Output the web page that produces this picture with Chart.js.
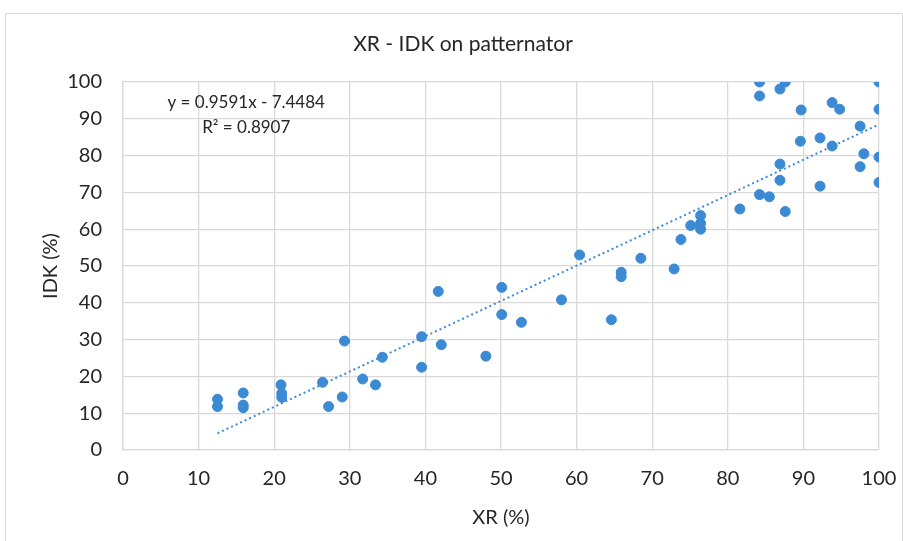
<!DOCTYPE html>
<html>
<head>
<meta charset="utf-8">
<script src="https://cdn.jsdelivr.net/npm/chart.js@4/dist/chart.umd.min.js"></script>
<style>
  html, body { margin: 0; padding: 0; background: #fff; }
  #wrap { width: 903px; height: 541px; position: relative; }
</style>
</head>
<body>
<div id="wrap"><canvas id="XrIdk"></canvas></div>
<script>
  'use strict';

  // XR (%) values
  var xrValues = [12.5, 12.5, 15.9, 15.9, 15.9, 20.9, 21.0, 21.0, 26.4, 27.2,
    29.0, 29.3, 31.7, 33.4, 34.3, 39.5, 39.5, 41.7, 42.1, 48.0,
    50.1, 50.1, 52.7, 58.0, 60.4, 64.6, 65.9, 65.9, 68.5, 72.9,
    73.8, 75.1, 76.4, 76.4, 76.4, 81.6, 84.2, 85.5, 87.6, 86.9,
    86.9, 84.2, 84.2, 86.9, 87.6, 89.7, 89.6, 92.2, 92.2, 93.8,
    94.8, 93.8, 97.5, 97.5, 98.0, 100, 100, 100, 100];

  // IDK (%) values, same order
  var idkValues = [13.8, 11.8, 15.5, 12.2, 11.5, 17.7, 15.4, 14.3, 18.4, 11.8,
    14.4, 29.6, 19.3, 17.7, 25.2, 30.8, 22.5, 43.1, 28.6, 25.5,
    44.2, 36.8, 34.7, 40.8, 53.0, 35.4, 48.3, 47.1, 52.1, 49.2,
    57.2, 61.0, 63.7, 61.6, 60.0, 65.5, 69.4, 68.8, 64.8, 77.7,
    73.3, 100, 96.2, 98.1, 100, 92.4, 83.9, 84.8, 71.7, 94.4,
    92.6, 82.6, 88.0, 77.0, 80.5, 100, 92.6, 79.6, 72.7];

  // linear trend shown on the chart
  var trendSlope = 0.9591;
  var trendIntercept = -7.4484;
  var trendLabels = ['y = 0.9591x - 7.4484', 'R\u00B2 = 0.8907'];

  var axisTicks = [0, 10, 20, 30, 40, 50, 60, 70, 80, 90, 100];

  var fontFamily = 'Lato, "Open Sans", sans-serif';
  var textColor = '#262626';
  var gridColor = '#d9d9d9';
  var dotColor = 'rgb(60, 138, 212)';

  var points = xrValues.map(function (x, i) { return { x: x, y: idkValues[i] }; });
  var xMin = Math.min.apply(null, xrValues);
  var xMax = Math.max.apply(null, xrValues);
  var trend = [xMin, xMax].map(function (x) { return { x: x, y: trendSlope * x + trendIntercept }; });

  var frameAndText = {
    id: 'frameAndText',
    beforeDraw: function (chart) {
      var c = chart.ctx;
      c.save();
      c.strokeStyle = gridColor;
      c.lineWidth = 1;
      c.strokeRect(5.5, 13.5, chart.width - 6, chart.height - 13);
      c.restore();
    },
    afterDraw: function (chart) {
      var c = chart.ctx, xs = chart.scales.x, ys = chart.scales.y;
      c.save();
      c.fillStyle = textColor;
      c.textAlign = 'center';
      c.textBaseline = 'middle';
      c.font = '21px ' + fontFamily;
      c.fillText('XR - IDK on patternator', 463, 44);
      c.font = '17px ' + fontFamily;
      c.fillText(trendLabels[0], xs.getPixelForValue(16.3), ys.getPixelForValue(94.3));
      c.fillText(trendLabels[1], xs.getPixelForValue(16.3), ys.getPixelForValue(87.5));
      c.restore();
    }
  };

  new Chart(document.getElementById('XrIdk'), {
    type: 'scatter',
    data: {
      datasets: [{
        label: 'IDK',
        data: points,
        backgroundColor: dotColor,
        borderColor: dotColor,
        pointRadius: 5,
        pointHoverRadius: 5,
        order: 1
      }, {
        label: 'Trend',
        type: 'line',
        data: trend,
        borderColor: dotColor,
        borderWidth: 2,
        borderDash: [2, 3],
        pointRadius: 0,
        fill: false,
        order: 2
      }]
    },
    options: {
      responsive: true,
      maintainAspectRatio: false,
      animation: false,
      layout: { padding: { left: 34, right: 24, top: 82, bottom: 0 } },
      plugins: { legend: { display: false }, title: { display: false }, tooltip: { enabled: false } },
      scales: {
        x: {
          type: 'linear',
          min: 0,
          max: 100,
          afterBuildTicks: function (s) { s.ticks = axisTicks.map(function (v) { return { value: v }; }); },
          afterFit: function (s) { s.height = 91; s.paddingLeft = 0; s.paddingRight = 0; },
          grid: { color: gridColor, lineWidth: 1.3, drawTicks: false },
          border: { color: gridColor, width: 1.3 },
          ticks: { color: textColor, font: { family: fontFamily, size: 20 }, padding: 17, maxRotation: 0 },
          title: { display: true, text: 'XR (%)', color: textColor, font: { family: fontFamily, size: 20 }, padding: { top: 0, bottom: 11 } }
        },
        y: {
          min: 0,
          max: 100,
          afterBuildTicks: function (s) { s.ticks = axisTicks.map(function (v) { return { value: v }; }); },
          afterFit: function (s) { s.width = 89; },
          grid: { color: gridColor, lineWidth: 1.3, drawTicks: false },
          border: { color: gridColor, width: 1.3 },
          ticks: { color: textColor, font: { family: fontFamily, size: 20 }, padding: 21 },
          title: { display: true, text: 'IDK (%)', color: textColor, font: { family: fontFamily, size: 20 }, padding: { top: 5, bottom: 0 } }
        }
      }
    },
    plugins: [frameAndText]
  });
</script>
</body>
</html>
